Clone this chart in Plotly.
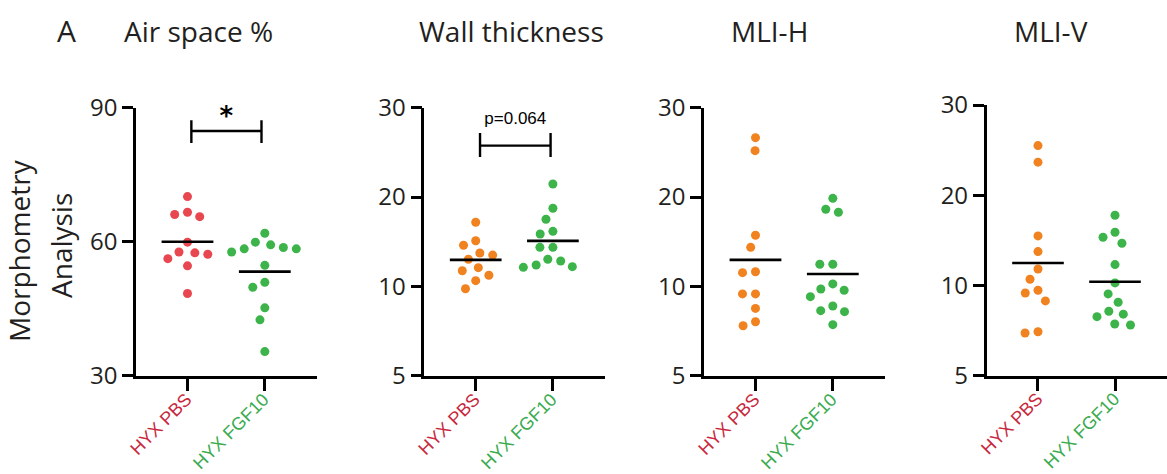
import numpy as np
import plotly.graph_objects as go

# ---------------- data ----------------
categories = ["HYX PBS", "HYX FGF10"]
panel_titles = ["Air space %", "Wall thickness", "MLI-H", "MLI-V"]

air_pbs = [70.1, 65.6, 66.1, 66.6, 59.9, 57.7, 57.5, 57.2, 56.2, 54.6, 48.4]
air_fgf = [61.9, 59.9, 59.3, 58.7, 57.7, 58.4, 58.4, 54.7, 50.9, 49.8, 45.2, 42.5, 35.4]

wall_pbs = [16.44, 14.25, 13.76, 12.75, 12.95, 12.34, 11.56, 11.29, 10.90, 10.45, 9.82]
wall_fgf = [22.13, 18.33, 16.83, 15.33, 15.01, 13.54, 13.54, 12.34, 12.18, 11.80, 11.65, 11.59]

mlih_pbs = [31.7, 28.66, 14.87, 13.54, 11.2, 11.12, 9.43, 9.43, 8.43, 7.37, 7.6]
mlih_fgf = [19.8, 17.77, 18.19, 11.87, 11.87, 9.70, 9.80, 10.19, 9.23, 8.59, 8.22, 8.28, 7.43]

mliv_pbs = [29.28, 25.78, 14.63, 12.97, 11.35, 10.49, 9.64, 9.44, 8.88, 6.94, 7.01]
mliv_fgf = [17.15, 15.05, 14.48, 13.83, 11.74, 10.20, 9.37, 8.79, 8.20, 8.02, 7.87, 7.38, 7.44]

air_ticks = [30, 60, 90]
log_tickvals = [5, 10, 20, 40]
log_ticktext = ["5", "10", "20", "30"]

sig_air_label = "<b>*</b>"
sig_wall_label = "p=0.064"

# ---------------- style / layout ----------------
W, H = 1167, 474
RED_DOT = "#e8474f"
ORANGE_DOT = "#f0821f"
GREEN_DOT = "#3cb44a"
RED_TXT = "#c8283e"
GREEN_TXT = "#3aab4f"
CAT_TXT = [RED_TXT, GREEN_TXT]
INK = "#231f20"

x_domains = [(136 / W, 317 / W), (424.3 / W, 605 / W), (704 / W, 885 / W), (986.7 / W, 1.0)]
y_domains = [(1 - 375.7 / H, 1 - 107.7 / H)] * 3 + [(1 - 375.7 / H, 1 - 105 / H)]
XRANGE = [-0.666, 1.675]

panels = [
    dict(pbs=air_pbs, fgf=air_fgf, log=False, pbs_color=RED_DOT),
    dict(pbs=wall_pbs, fgf=wall_fgf, log=True, pbs_color=ORANGE_DOT),
    dict(pbs=mlih_pbs, fgf=mlih_fgf, log=True, pbs_color=ORANGE_DOT),
    dict(pbs=mliv_pbs, fgf=mliv_fgf, log=True, pbs_color=ORANGE_DOT),
]


def swarm_offsets(ypx, diameter):
    """Greedy beeswarm: horizontal pixel offsets avoiding overlap."""
    n = len(ypx)
    xs = [0.0] * n
    placed = []
    order = sorted(range(n), key=lambda i: -ypx[i])
    for i in order:
        cands = [0.0]
        intervals = []
        for xj, yj in placed:
            dy = abs(ypx[i] - yj)
            if dy < diameter:
                w = np.sqrt(diameter ** 2 - dy ** 2)
                intervals.append((xj - w, xj + w))
                cands += [xj - w, xj + w]
        valid = [c for c in cands
                 if all(not (a + 1e-6 < c < b - 1e-6) for a, b in intervals)]
        best = min(valid, key=lambda c: (abs(c), c))
        xs[i] = best
        placed.append((best, ypx[i]))
    return xs


fig = go.Figure()
DOT_SPACING = 13.0

for k, p in enumerate(panels):
    xa = "x" if k == 0 else f"x{k+1}"
    ya = "y" if k == 0 else f"y{k+1}"
    plot_w = (x_domains[k][1] - x_domains[k][0]) * W
    plot_h = (y_domains[k][1] - y_domains[k][0]) * H
    px_per_x = plot_w / (XRANGE[1] - XRANGE[0])
    if p["log"]:
        px_per_y = plot_h / (np.log10(40) - np.log10(5))
        tf = lambda v: np.log10(np.asarray(v, float))
    else:
        px_per_y = plot_h / (90 - 30)
        tf = lambda v: np.asarray(v, float)
    for ci, (vals, col) in enumerate([(p["pbs"], p["pbs_color"]), (p["fgf"], GREEN_DOT)]):
        ypx = list(tf(vals) * px_per_y)
        offs = swarm_offsets(ypx, DOT_SPACING)
        xs = [ci + o / px_per_x for o in offs]
        fig.add_trace(go.Scatter(x=xs, y=vals, mode="markers", xaxis=xa, yaxis=ya,
                                 marker=dict(size=9, color=col, line=dict(width=0)),
                                 showlegend=False, hoverinfo="y"))
        if p["log"]:
            m = float(np.exp(np.mean(np.log(vals))))
        else:
            m = float(np.mean(vals))
        fig.add_trace(go.Scatter(x=[ci - 0.335, ci + 0.335], y=[m, m], mode="lines",
                                 xaxis=xa, yaxis=ya, line=dict(color="black", width=2.6),
                                 showlegend=False, hoverinfo="skip"))

# significance brackets
def bracket(xa, ya, x0, x1, yh, ylo, yhi, label, ly, font):
    fig.add_trace(go.Scatter(x=[x0, x1], y=[yh, yh], mode="lines", xaxis=xa, yaxis=ya,
                             line=dict(color="black", width=2.4), showlegend=False, hoverinfo="skip"))
    for xx in (x0, x1):
        fig.add_trace(go.Scatter(x=[xx, xx], y=[ylo, yhi], mode="lines", xaxis=xa, yaxis=ya,
                                 line=dict(color="black", width=2.4), showlegend=False, hoverinfo="skip"))
    fig.add_trace(go.Scatter(x=[(x0 + x1) / 2], y=[ly], mode="text", text=[label],
                             xaxis=xa, yaxis=ya, textfont=font, textposition="middle center",
                             cliponaxis=False, showlegend=False, hoverinfo="skip"))

bracket("x", "y", 0.05, 0.957, 84.8, 82.1, 87.2, sig_air_label, 87.6,
        dict(family="DejaVu Sans", size=26, color="black"))
bracket("x2", "y2", 0.056, 0.97, 29.8, 27.3, 32.9, sig_wall_label, 36.3,
        dict(family="Liberation Sans", size=17, color="black"))

# axes
layout_axes = {}
annotations = []
for k, p in enumerate(panels):
    sx = "xaxis" if k == 0 else f"xaxis{k+1}"
    sy = "yaxis" if k == 0 else f"yaxis{k+1}"
    ya_name = "y" if k == 0 else f"y{k+1}"
    xa_name = "x" if k == 0 else f"x{k+1}"
    layout_axes[sx] = dict(domain=list(x_domains[k]), range=XRANGE, anchor=ya_name,
                           showgrid=False, zeroline=False, showline=True, linecolor="black",
                           linewidth=2.6, ticks="outside", ticklen=12, tickwidth=2.6,
                           tickcolor="black", tickvals=[0, 1], showticklabels=False,
                           automargin=False, fixedrange=True)
    if p["log"]:
        yax = dict(type="log", range=[np.log10(5), np.log10(40)],
                   tickvals=log_tickvals, ticktext=log_ticktext)
    else:
        yax = dict(range=[30, 90], tickvals=air_ticks)
    yax.update(domain=list(y_domains[k]), anchor=xa_name, showgrid=False, zeroline=False,
               showline=True, linecolor="black", linewidth=2.6, ticks="outside", ticklen=11,
               tickwidth=2.6, tickcolor="black",
               tickfont=dict(family="Open Sans", size=24, color=INK),
               automargin=False, fixedrange=True)
    layout_axes[sy] = yax
    # rotated category labels, anchored by their upper-right corner near each tick
    for ci, cat in enumerate(categories):
        annotations.append(dict(text=cat, x=ci + 0.125, y=1 - 388 / H, xref=xa_name,
                                yref="paper", xanchor="right", yanchor="top",
                                textangle=-45, showarrow=False, borderpad=0,
                                font=dict(family="Liberation Sans", size=18, color=CAT_TXT[ci])))

annotations += [
    dict(text="A", x=66.7 / W, y=1 - 31 / H, xref="paper", yref="paper", showarrow=False,
         xanchor="center", yanchor="middle", font=dict(family="Open Sans", size=30, color=INK)),
    dict(text="Morphometry", x=19 / W, y=1 - 251 / H, xref="paper", yref="paper",
         showarrow=False, textangle=-90, xanchor="center", yanchor="middle",
         font=dict(family="Open Sans", size=28, color=INK)),
    dict(text="Analysis", x=61 / W, y=1 - 246 / H, xref="paper", yref="paper",
         showarrow=False, textangle=-90, xanchor="center", yanchor="middle",
         font=dict(family="Open Sans", size=28, color=INK)),
]
title_x = [198, 511, 769, 1051]
for t, xc in zip(panel_titles, title_x):
    annotations.append(dict(text=t, x=xc / W, y=1 - 31 / H, xref="paper", yref="paper",
                            showarrow=False, xanchor="center", yanchor="middle",
                            font=dict(family="Open Sans", size=28, color=INK)))

fig.update_layout(width=W, height=H, margin=dict(l=0, r=0, t=0, b=0),
                  paper_bgcolor="white", plot_bgcolor="white", showlegend=False,
                  annotations=annotations, **layout_axes)

fig.write_html("out.html", config={"displayModeBar": False},
               post_script="document.body.style.margin='0';document.body.style.overflow='hidden';")
